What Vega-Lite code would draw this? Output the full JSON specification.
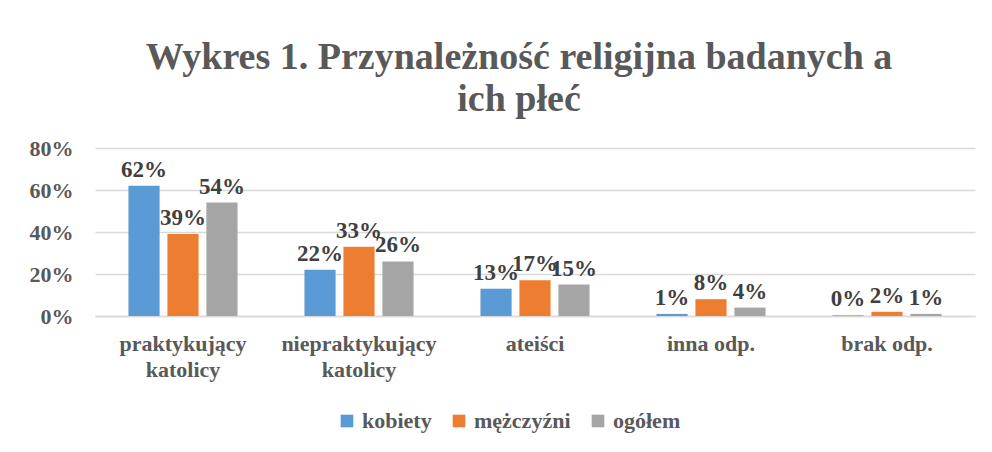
{
  "$schema": "https://vega.github.io/schema/vega-lite/v6.json",
  "autosize": {"type": "none"},
  "width": 880,
  "height": 168,
  "padding": {"left": 95, "top": 148, "right": 17, "bottom": 136},
  "background": "white",
  "config": {"view": {"stroke": null}},
  "title": {
    "text": ["Wykres 1. Przynależność religijna badanych a", "ich płeć"],
    "font": "Liberation Serif",
    "fontSize": 38,
    "fontWeight": "bold",
    "color": "#595959",
    "lineHeight": 42,
    "anchor": "middle",
    "frame": "group",
    "dx": -16,
    "offset": 18
  },
  "data": {
    "values": [
      {"kategoria": "praktykujący katolicy", "grupa": "kobiety", "wartosc": 0.62},
      {"kategoria": "praktykujący katolicy", "grupa": "mężczyźni", "wartosc": 0.39},
      {"kategoria": "praktykujący katolicy", "grupa": "ogółem", "wartosc": 0.54},
      {"kategoria": "niepraktykujący katolicy", "grupa": "kobiety", "wartosc": 0.22},
      {"kategoria": "niepraktykujący katolicy", "grupa": "mężczyźni", "wartosc": 0.33},
      {"kategoria": "niepraktykujący katolicy", "grupa": "ogółem", "wartosc": 0.26},
      {"kategoria": "ateiści", "grupa": "kobiety", "wartosc": 0.13},
      {"kategoria": "ateiści", "grupa": "mężczyźni", "wartosc": 0.17},
      {"kategoria": "ateiści", "grupa": "ogółem", "wartosc": 0.15},
      {"kategoria": "inna odp.", "grupa": "kobiety", "wartosc": 0.01},
      {"kategoria": "inna odp.", "grupa": "mężczyźni", "wartosc": 0.08},
      {"kategoria": "inna odp.", "grupa": "ogółem", "wartosc": 0.04},
      {"kategoria": "brak odp.", "grupa": "kobiety", "wartosc": 0.003},
      {"kategoria": "brak odp.", "grupa": "mężczyźni", "wartosc": 0.02},
      {"kategoria": "brak odp.", "grupa": "ogółem", "wartosc": 0.01}
    ]
  },
  "encoding": {
    "x": {
      "field": "kategoria",
      "type": "nominal",
      "sort": null,
      "scale": {"paddingInner": 0.38, "paddingOuter": 0.19},
      "axis": {
        "title": null,
        "labelAngle": 0,
        "labelFont": "Liberation Serif",
        "labelFontSize": 22,
        "labelFontWeight": "bold",
        "labelColor": "#595959",
        "labelPadding": 17,
        "labelLineHeight": 26,
        "labelExpr": "indexof(datum.label, 'katolicy') >= 0 ? split(datum.label, ' ') : datum.label",
        "ticks": false,
        "domainColor": "#d9d9d9",
        "domainWidth": 1.5
      }
    },
    "xOffset": {
      "field": "grupa",
      "type": "nominal",
      "sort": ["kobiety", "mężczyźni", "ogółem"],
      "scale": {"paddingInner": 0.2, "paddingOuter": 0}
    },
    "y": {
      "field": "wartosc",
      "type": "quantitative",
      "scale": {"domain": [0, 0.8], "nice": false},
      "axis": {
        "title": null,
        "format": ".0%",
        "values": [0, 0.2, 0.4, 0.6, 0.8],
        "labelFont": "Liberation Serif",
        "labelFontSize": 22,
        "labelFontWeight": "bold",
        "labelColor": "#595959",
        "labelPadding": 22,
        "ticks": false,
        "domain": false,
        "gridColor": "#d9d9d9",
        "gridWidth": 1.5
      }
    }
  },
  "layer": [
    {
      "mark": {"type": "bar"},
      "encoding": {
        "color": {
          "field": "grupa",
          "type": "nominal",
          "sort": ["kobiety", "mężczyźni", "ogółem"],
          "scale": {"domain": ["kobiety", "mężczyźni", "ogółem"], "range": ["#5B9BD5", "#ED7D31", "#A5A5A5"]},
          "legend": {
            "title": null,
            "orient": "none",
            "legendX": 241,
            "legendY": 262,
            "direction": "horizontal",
            "symbolType": "square",
            "symbolSize": 160,
            "symbolStrokeWidth": 0,
            "labelFont": "Liberation Serif",
            "labelFontSize": 22,
            "labelFontWeight": "bold",
            "labelColor": "#595959",
            "labelOffset": 4,
            "columnPadding": 16
          }
        }
      }
    },
    {
      "mark": {
        "type": "text",
        "font": "Liberation Serif",
        "fontSize": 23,
        "fontWeight": "bold",
        "color": "#404040",
        "baseline": "alphabetic",
        "dy": -9
      },
      "encoding": {
        "text": {"field": "wartosc", "type": "quantitative", "format": ".0%"}
      }
    }
  ]
}
